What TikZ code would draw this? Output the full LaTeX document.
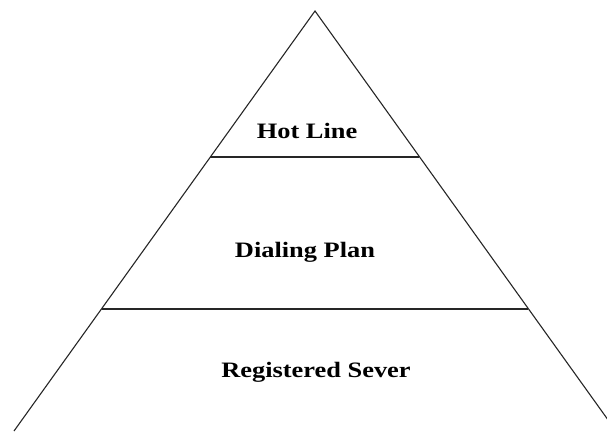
\documentclass[tikz,border=0pt]{standalone}
\usepackage{fontspec}
\setmainfont{Liberation Serif}
\begin{document}
\begin{tikzpicture}[x=1pt,y=-1pt,
  edge/.style={draw=black!85,line width=1.1pt},
  level/.style={font=\fontsize{22}{26}\selectfont\bfseries,xscale=1.2,transform shape,anchor=base}]
\useasboundingbox (0,0) rectangle (607,431);
\clip (0,0) rectangle (607,431);
\coordinate (apex) at (315,11);
\coordinate (bl) at (14,431);
\coordinate (br) at (616,431);
\coordinate (l1) at (210,157);
\coordinate (r1) at (419,157);
\coordinate (l2) at (102,309);
\coordinate (r2) at (528,309);
\draw[edge] (bl) -- (apex) -- (br);
\draw[edge] (l1) -- (r1);
\draw[edge] (l2) -- (r2);
\node[level] (t1) at (307,138) {Hot Line};
\node[level] (t2) at (305,257) {Dialing Plan};
\node[level] (t3) at (316,377) {Registered Sever};
\end{tikzpicture}
\end{document}
